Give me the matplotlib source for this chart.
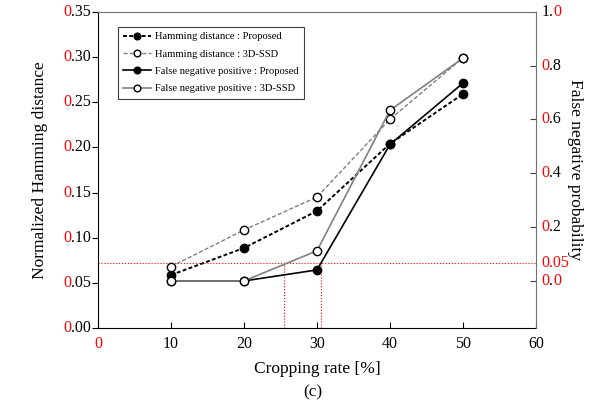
import matplotlib.pyplot as plt
from matplotlib.transforms import offset_copy, blended_transform_factory

plt.rcParams['font.family'] = ['Liberation Serif', 'DejaVu Serif']
plt.rcParams['font.size'] = 10.5

# data
crop_rate = [10, 20, 30, 40, 50]
ham_proposed = [0.0587, 0.0886, 0.1296, 0.204, 0.259]
ham_3dssd = [0.0680, 0.1085, 0.145, 0.231, 0.299]
fn_proposed = [0.0, 0.0, 0.041, 0.507, 0.735]
fn_3dssd = [0.0, 0.0, 0.112, 0.634, 0.828]

left_ticks = [0.00, 0.05, 0.10, 0.15, 0.20, 0.25, 0.30, 0.35]
right_ticks = [0.0, 0.2, 0.4, 0.6, 0.8, 1.0]
x_ticks = [0, 10, 20, 30, 40, 50, 60]

threshold_left = 0.0723      # red horizontal line (left-axis units)
cross_x = [25.5, 30.5]       # red vertical lines

fig = plt.figure(figsize=(6.09, 4.07), dpi=100)
ax = fig.add_axes([0.161, 0.194, 0.719, 0.777])
ax2 = ax.twinx()

# lines
l1, = ax.plot(crop_rate, ham_proposed, color='black', ls=(0, (2, 1.2)), lw=1.4,
              marker='o', ms=6, mfc='black', mec='black', zorder=3)
l2, = ax.plot(crop_rate, ham_3dssd, color='#808080', ls=(0, (3, 1.5)), lw=1.0,
              marker='o', ms=6, mfc='white', mec='black', zorder=3)
l3, = ax2.plot(crop_rate, fn_proposed, color='black', ls='-', lw=1.2,
               marker='o', ms=6, mfc='black', mec='black', zorder=3)
l4, = ax2.plot(crop_rate, fn_3dssd, color='#808080', ls='-', lw=1.2,
               marker='o', ms=6, mfc='white', mec='black', zorder=4)

# red threshold lines
ax.axhline(threshold_left, color='red', ls=':', lw=0.8)
for cx in cross_x:
    ax.plot([cx, cx], [0, threshold_left], color='red', ls=':', lw=0.8)

ax.set_xlim(0, 60)
ax.set_ylim(0, 0.35)
ax2.set_ylim(-0.175, 1.0)

# spines
for s in ['top', 'right']:
    ax2.spines[s].set_color('#707070')
ax.spines['top'].set_visible(False)
ax.spines['right'].set_visible(False)
ax2.spines['left'].set_visible(False)
ax2.spines['bottom'].set_visible(False)

# x ticks
ax.set_xticks(x_ticks)
ax.set_xticklabels([str(v) for v in x_ticks])
ax.tick_params(axis='x', direction='in', length=4, labelsize=11.5, pad=6)
ax.get_xticklabels()[0].set_color('red')

# left y ticks with partly red labels
ax.set_yticks(left_ticks)
ax.set_yticklabels([])
ax.tick_params(axis='y', direction='out', length=4)
tr_left = blended_transform_factory(ax.transAxes, ax.transData)
for v in left_ticks:
    base = offset_copy(tr_left, fig=fig, x=-5, y=0, units='points')
    t = ax.text(0, v, f'{v:.2f}'[1:], transform=base, ha='right', va='center',
                fontsize=11.5, color='black')
    ax.annotate('0', xy=(0, 0.5), xycoords=t, ha='right', va='center',
                fontsize=11.5, color='red')

# right y ticks with partly red labels
ax2.set_yticks(right_ticks)
ax2.set_yticklabels([])
ax2.tick_params(axis='y', direction='in', length=4, color='#404040')
tr_right = blended_transform_factory(ax2.transAxes, ax2.transData)
rbase = offset_copy(tr_right, fig=fig, x=4, y=0, units='points')
for v in right_ticks:
    s = f'{v:.1f}'
    if v == 1.0:
        t = ax2.text(1, v, '1.', transform=rbase, ha='left', va='center', fontsize=11.5)
        ax2.annotate('0', xy=(1, 0.5), xycoords=t, ha='left', va='center',
                     fontsize=11.5, color='red')
    elif v == 0.0:
        t = ax2.text(1, v, '0', transform=rbase, ha='left', va='center', fontsize=11.5, color='red')
        t2 = ax2.annotate('.', xy=(1, 0.5), xycoords=t, ha='left', va='center', fontsize=11.5)
        ax2.annotate('0', xy=(1, 0.5), xycoords=t2, ha='left', va='center',
                     fontsize=11.5, color='red')
    else:
        t = ax2.text(1, v, '0', transform=rbase, ha='left', va='center', fontsize=11.5, color='red')
        ax2.annotate(s[1:], xy=(1, 0.5), xycoords=t, ha='left', va='center', fontsize=11.5)
# threshold label on right axis
thr_right = ax2.transData.inverted().transform(ax.transData.transform((0, threshold_left)))[1]
ax2.text(1, thr_right, '0.05', transform=rbase, ha='left', va='center',
         fontsize=11.5, color='red')

# axis labels
ax.set_ylabel('Normalized Hamming distance', fontsize=12.5, va='center')
ax.yaxis.set_label_coords(-0.132, 0.5)
ax2.set_ylabel('False negative probability', fontsize=12.5, rotation=270, va='center')
ax2.yaxis.set_label_coords(1.089, 0.5)
ax.set_xlabel('Cropping rate [%]', fontsize=12.5, labelpad=6)
fig.text(0.5135, 0.035, '(c)', ha='center', va='center', fontsize=12.5)

# legend
leg = ax.legend([l1, l2, l3, l4],
                ['Hamming distance : Proposed', 'Hamming distance : 3D-SSD',
                 'False negative positive : Proposed', 'False negative positive : 3D-SSD'],
                loc='upper left', bbox_to_anchor=(0.046, 0.953), borderaxespad=0,
                fontsize=7.6, handlelength=2.6, handletextpad=0.35, labelspacing=0.75,
                borderpad=0.5, fancybox=False, framealpha=1, edgecolor='#404040',
                markerscale=0.8)
leg.get_frame().set_linewidth(0.8)
leg.set_zorder(10)

fig.savefig('out.png', dpi=100)
